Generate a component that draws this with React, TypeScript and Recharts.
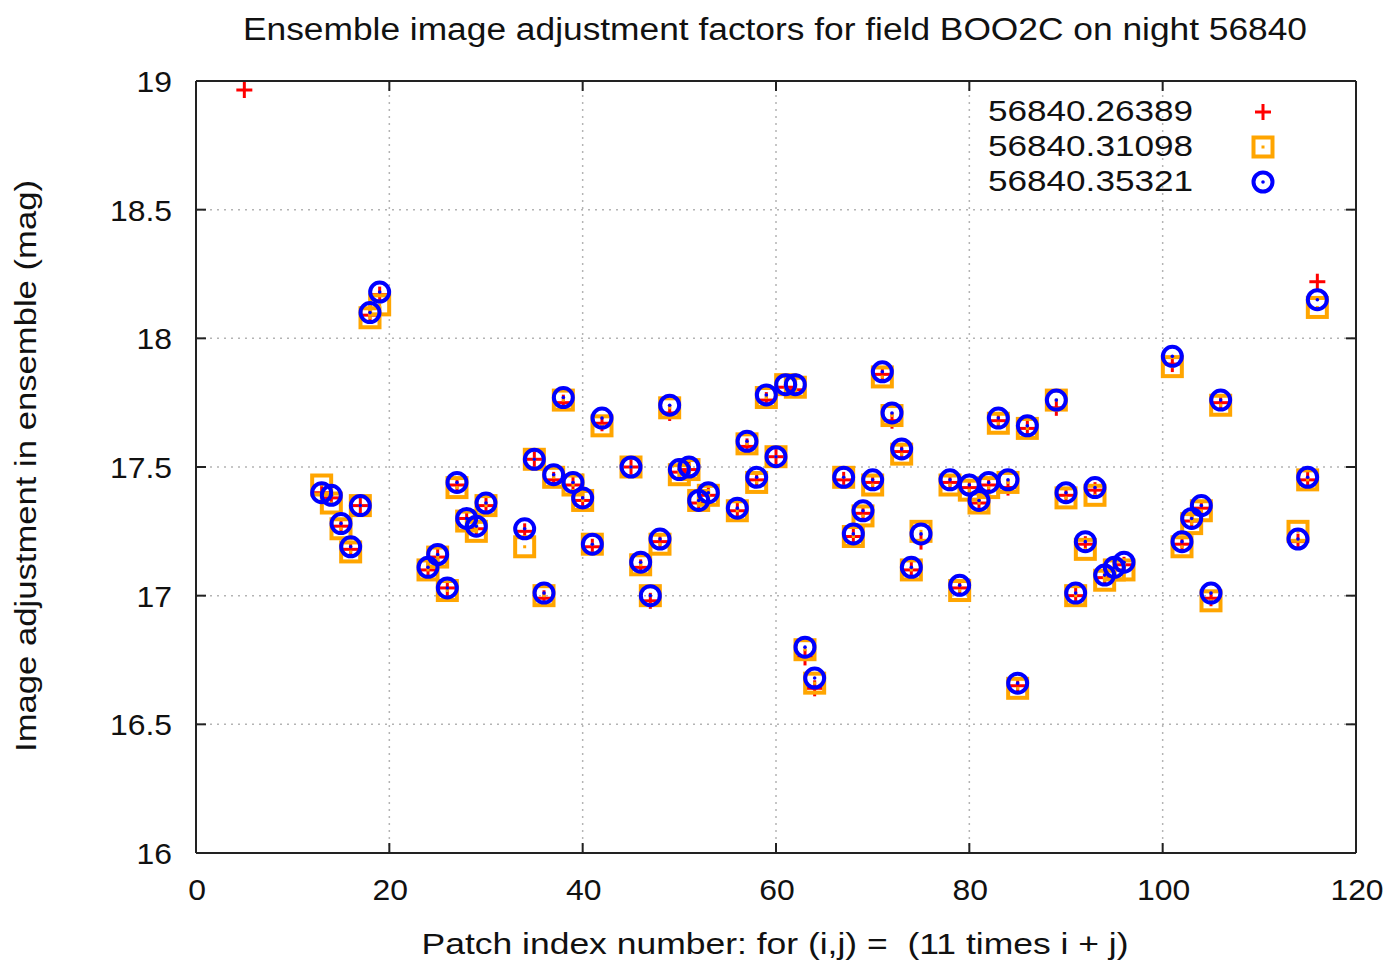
import React from "react"
import {
  ScatterChart,
  Scatter,
  XAxis,
  YAxis,
  CartesianGrid,
  ReferenceLine,
} from "recharts"

// patch indices shared by all three exposures
const patches = [
  13, 14, 15, 16, 17, 18, 19,
  24, 25, 26, 27, 28, 29, 30,
  34, 35, 36, 37, 38, 39, 40, 41, 42,
  45, 46, 47, 48, 49, 50, 51, 52, 53,
  56, 57, 58, 59, 60, 61, 62, 63, 64,
  67, 68, 69, 70, 71, 72, 73, 74, 75,
  78, 79, 80, 81, 82, 83, 84, 85, 86,
  89, 90, 91, 92, 93, 94, 95, 96,
  101, 102, 103, 104, 105, 106,
  114, 115, 116,
]
// first exposure has one extra patch (5)
const patches1 = [5, ...patches]

const values1 = [
  18.965,
  17.40, 17.38, 17.27, 17.18, 17.35, 18.09, 18.17,
  17.10, 17.15, 17.03, 17.43, 17.30, 17.26, 17.35,
  17.25, 17.53, 16.99, 17.45, 17.75, 17.43, 17.37, 17.19, 17.67,
  17.50, 17.11, 16.98, 17.21, 17.71, 17.48, 17.49, 17.36, 17.39,
  17.33, 17.58, 17.45, 17.76, 17.54, 17.81, 17.80, 16.76, 16.64,
  17.45, 17.23, 17.32, 17.44, 17.86, 17.68, 17.56, 17.10, 17.21,
  17.44, 17.03, 17.42, 17.36, 17.43, 17.68, 17.42, 16.65, 17.65,
  17.73, 17.39, 17.00, 17.20, 17.41, 17.07, 17.10, 17.12,
  17.90, 17.20, 17.29, 17.34, 16.99, 17.75,
  17.21, 17.45, 18.22,
]

const values2 = [
  17.43, 17.36, 17.26, 17.17, 17.35, 18.08, 18.13,
  17.10, 17.15, 17.02, 17.42, 17.29, 17.25, 17.35,
  17.19, 17.53, 17.00, 17.46, 17.76, 17.43, 17.37, 17.20, 17.66,
  17.50, 17.12, 17.00, 17.20, 17.73, 17.47, 17.49, 17.37, 17.39,
  17.33, 17.59, 17.44, 17.77, 17.54, 17.82, 17.81, 16.79, 16.66,
  17.46, 17.23, 17.31, 17.43, 17.85, 17.70, 17.55, 17.10, 17.25,
  17.43, 17.02, 17.41, 17.36, 17.42, 17.67, 17.44, 16.64, 17.65,
  17.76, 17.38, 17.00, 17.18, 17.39, 17.06, 17.10, 17.10,
  17.89, 17.19, 17.28, 17.33, 16.98, 17.74,
  17.25, 17.45, 18.12,
]

const values3 = [
  17.40, 17.39, 17.28, 17.19, 17.35, 18.10, 18.18,
  17.11, 17.16, 17.03, 17.44, 17.30, 17.27, 17.36,
  17.26, 17.53, 17.01, 17.47, 17.77, 17.44, 17.38, 17.20, 17.69,
  17.50, 17.13, 17.00, 17.22, 17.74, 17.49, 17.50, 17.37, 17.40,
  17.34, 17.60, 17.46, 17.78, 17.54, 17.82, 17.82, 16.80, 16.68,
  17.46, 17.24, 17.33, 17.45, 17.87, 17.71, 17.57, 17.11, 17.24,
  17.45, 17.04, 17.43, 17.37, 17.44, 17.69, 17.45, 16.66, 17.66,
  17.76, 17.40, 17.01, 17.21, 17.42, 17.08, 17.11, 17.13,
  17.93, 17.21, 17.30, 17.35, 17.01, 17.76,
  17.22, 17.46, 18.15,
]

const seriesNames = ["56840.26389", "56840.31098", "56840.35321"]
const xTicks = [0, 20, 40, 60, 80, 100, 120]
const yTicks = [16, 16.5, 17, 17.5, 18, 18.5, 19]

const FONT = "'Liberation Sans', Arial, Helvetica, sans-serif"
const RED = "#ff0000"
const ORANGE = "#ffa500"
const BLUE = "#0000ff"

// plot box in page pixels
const LEFT = 196
const RIGHT = 1356
const TOP = 81
const BOTTOM = 853
const TICK = 10

const toPoints = (xs: number[], ys: number[]) => xs.map((x, i) => ({ x, y: ys[i] }))
const data1 = toPoints(patches1, values1)
const data2 = toPoints(patches, values2)
const data3 = toPoints(patches, values3)

const PlusMark = ({ cx, cy }: any) => (
  <g stroke={RED} strokeWidth={3}>
    <line x1={cx - 8} x2={cx + 8} y1={cy} y2={cy} />
    <line x1={cx} x2={cx} y1={cy - 8} y2={cy + 8} />
  </g>
)

const SquareMark = ({ cx, cy }: any) => (
  <g>
    <rect x={cx - 9.5} y={cy - 9.5} width={19} height={19} fill="none" stroke={ORANGE} strokeWidth={4} />
    <rect x={cx - 1.5} y={cy - 1.5} width={3} height={3} fill={ORANGE} />
  </g>
)

const CircleMark = ({ cx, cy }: any) => (
  <g>
    <circle cx={cx} cy={cy} r={9.5} fill="none" stroke={BLUE} strokeWidth={4} />
    <circle cx={cx} cy={cy} r={1.8} fill={BLUE} />
  </g>
)

const YTick = ({ y, payload }: any) => (
  <g>
    <text
      transform={`translate(172, ${y + 11}) scale(1.1, 1)`}
      textAnchor="end"
      fontFamily={FONT}
      fontSize={29}
      fill="#111"
    >
      {String(payload.value)}
    </text>
    <line x1={LEFT} x2={LEFT + TICK} y1={y} y2={y} stroke="#222" strokeWidth={2} />
    <line x1={RIGHT - TICK} x2={RIGHT} y1={y} y2={y} stroke="#222" strokeWidth={2} />
  </g>
)

const XTick = ({ x, payload }: any) => (
  <g>
    <text
      transform={`translate(${x + 1}, 900) scale(1.1, 1)`}
      textAnchor="middle"
      fontFamily={FONT}
      fontSize={29}
      fill="#111"
    >
      {String(payload.value)}
    </text>
    <line x1={x} x2={x} y1={BOTTOM} y2={BOTTOM - TICK} stroke="#222" strokeWidth={2} />
    <line x1={x} x2={x} y1={TOP} y2={TOP + TICK} stroke="#222" strokeWidth={2} />
  </g>
)

const legendMarks = [PlusMark, SquareMark, CircleMark]

export default function App() {
  return (
    <div style={{ position: "absolute", left: 0, top: 0, width: 1393, height: 963, background: "#fff" }}>
      <ScatterChart
        width={1393}
        height={963}
        margin={{ top: 81, right: 37, bottom: 70, left: 136 }}
      >
        <CartesianGrid stroke="#b4b4b4" strokeDasharray="2 5" strokeWidth={1.5} />
        <XAxis
          type="number"
          dataKey="x"
          domain={[0, 120]}
          ticks={xTicks}
          height={40}
          tick={<XTick />}
          tickLine={false}
          axisLine={{ stroke: "#222", strokeWidth: 2 }}
          allowDataOverflow
        />
        <YAxis
          type="number"
          dataKey="y"
          domain={[16, 19]}
          ticks={yTicks}
          width={60}
          tick={<YTick />}
          tickLine={false}
          axisLine={{ stroke: "#222", strokeWidth: 2 }}
          allowDataOverflow
        />
        <ReferenceLine y={19} stroke="#222" strokeWidth={2} />
        <ReferenceLine x={120} stroke="#222" strokeWidth={2} />
        <Scatter data={data1} shape={<PlusMark />} isAnimationActive={false} />
        <Scatter data={data2} shape={<SquareMark />} isAnimationActive={false} />
        <Scatter data={data3} shape={<CircleMark />} isAnimationActive={false} />
      </ScatterChart>
      <svg
        width={1393}
        height={963}
        style={{ position: "absolute", left: 0, top: 0, pointerEvents: "none" }}
      >
        <text
          x={775}
          y={40}
          textAnchor="middle"
          fontFamily={FONT}
          fontSize={31}
          fill="#111"
          textLength={1064}
          lengthAdjust="spacingAndGlyphs"
        >
          Ensemble image adjustment factors for field BOO2C on night 56840
        </text>
        <text
          x={775}
          y={954}
          textAnchor="middle"
          fontFamily={FONT}
          fontSize={30}
          fill="#111"
          textLength={707}
          lengthAdjust="spacingAndGlyphs"
          style={{ whiteSpace: "pre" }}
        >
          {"Patch index number: for (i,j) =  (11 times i + j)"}
        </text>
        <text
          transform="translate(36, 466) rotate(-90)"
          textAnchor="middle"
          fontFamily={FONT}
          fontSize={30}
          fill="#111"
          textLength={572}
          lengthAdjust="spacingAndGlyphs"
        >
          Image adjustment in ensemble (mag)
        </text>
        {seriesNames.map((name, i) => {
          const Mark = legendMarks[i]
          return (
            <g key={name}>
              <text
                x={1193}
                y={121 + i * 35}
                textAnchor="end"
                fontFamily={FONT}
                fontSize={29}
                fill="#111"
                textLength={205}
                lengthAdjust="spacingAndGlyphs"
              >
                {name}
              </text>
              <Mark cx={1263} cy={112 + i * 35} />
            </g>
          )
        })}
      </svg>
    </div>
  )
}
